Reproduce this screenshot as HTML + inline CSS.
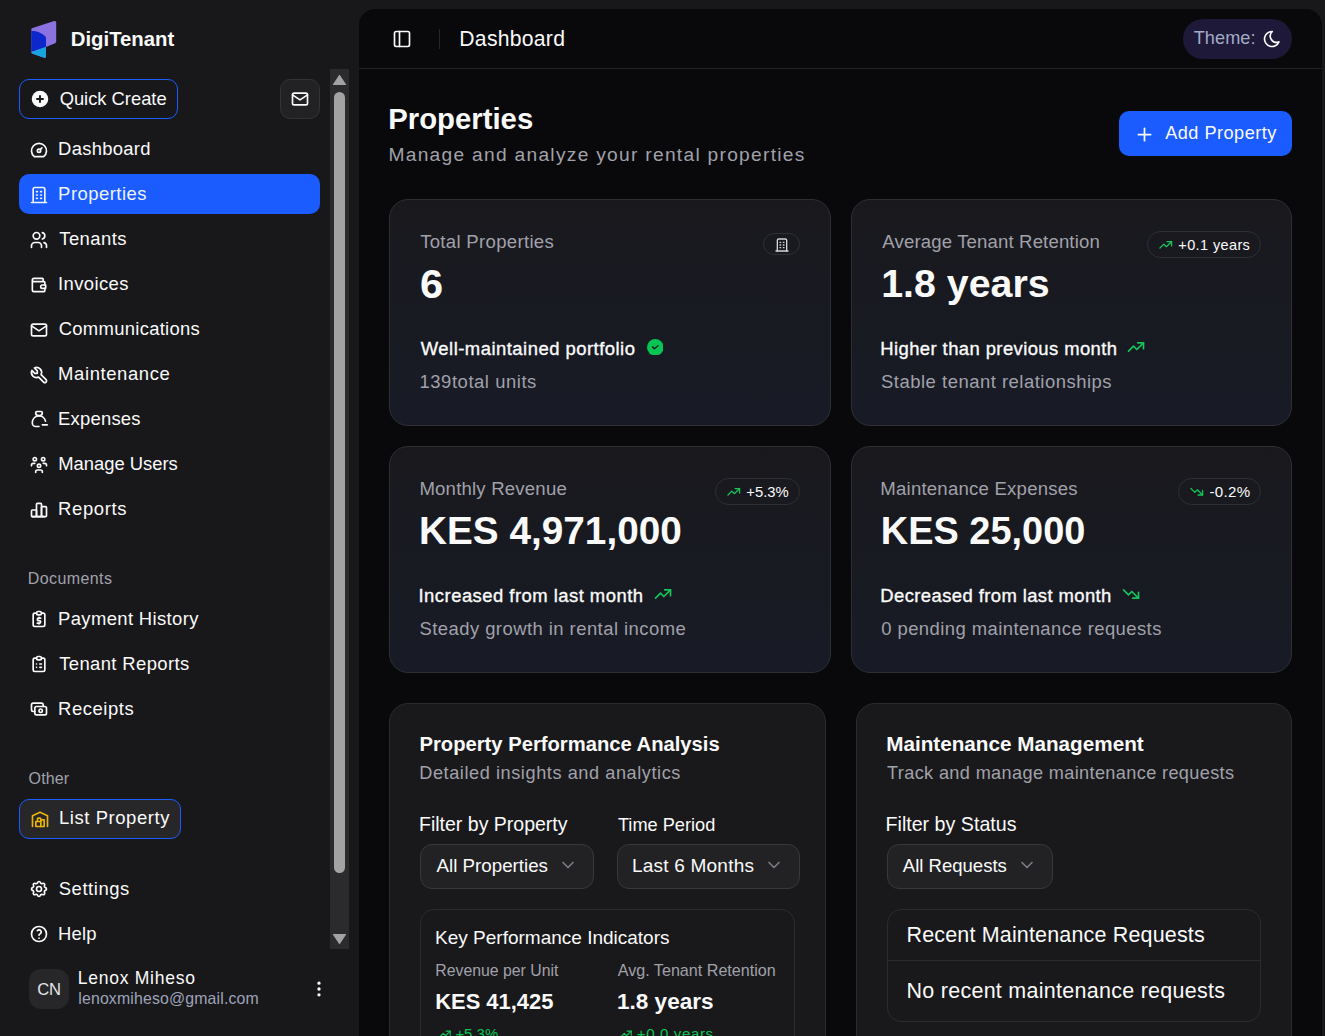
<!DOCTYPE html><html><head><meta charset="utf-8"><style>
*{box-sizing:border-box}
html,body{margin:0;padding:0}
body{width:1325px;height:1036px;overflow:hidden;background:#18181b;position:relative;font-family:'Liberation Sans',sans-serif;color:#fafafa}
.t{position:absolute;white-space:nowrap;line-height:1}
.ic{position:absolute;display:block}
.b{position:absolute}
</style></head><body>
<div class="b" style="left:359px;top:9px;width:963px;height:1100px;background:#09090b;border-radius:16px"></div>
<div class="b" style="left:359px;top:68px;width:963px;height:1px;background:#232326"></div>
<svg class="ic" style="left:0;top:0;width:80px;height:70px" viewBox="0 0 80 70">
<path d="M31.3 29.6 Q31.3 28.3 32.6 27.9 L54.2 21.0 Q56.2 20.5 56.2 22.6 L56.2 41.6 Q56.2 42.8 55.1 43.2 L46 47.1 L46 56.4 Q46 58.3 44.2 57.7 L32.6 53.7 Q31.3 53.2 31.3 51.9 Z" fill="#8c71e1"/>
<path d="M31.3 30.7 C37 30.9 42.5 33.2 46 37.2 L46 47.1 L31.3 52.1 Z" fill="#0c28cc"/>
<path d="M31.3 52.1 L46 47.1 L46 56.4 Q46 58.3 44.2 57.7 L32.6 53.7 Q31.3 53.2 31.3 52.1 Z" fill="#17a5dd"/>
</svg>
<div class="b" style="left:19px;top:79px;width:159px;height:40px;border:1.5px solid #1a5cff;border-radius:10px"></div>
<svg class="ic" style="left:31px;top:90px;width:18px;height:18px" viewBox="0 0 24 24"><circle cx="12" cy="12" r="11" fill="#fafafa"/><path d="M12 8v8M8 12h8" stroke="#18181b" stroke-width="2.6" stroke-linecap="round"/></svg>
<div class="b" style="left:280px;top:79px;width:40px;height:40px;background:#222225;border:1px solid #333337;border-radius:10px"></div>
<svg class="ic" style="left:289.8px;top:88.7px;width:20px;height:20px;color:#fafafa" viewBox="0 0 24 24" fill="none" stroke="currentColor" stroke-width="2" stroke-linecap="round" stroke-linejoin="round"><path d="M3 7a2 2 0 0 1 2 -2h14a2 2 0 0 1 2 2v10a2 2 0 0 1 -2 2h-14a2 2 0 0 1 -2 -2v-10z"/><path d="M3 7l9 6l9 -6"/></svg>
<div class="b" style="left:19px;top:174px;width:301px;height:40px;background:#1a5cff;border-radius:10px"></div>
<svg class="ic" style="left:29.3px;top:139.5px;width:20px;height:20px;color:#fafafa" viewBox="0 0 24 24" fill="none" stroke="currentColor" stroke-width="2" stroke-linecap="round" stroke-linejoin="round"><path d="M12 13m-2 0a2 2 0 1 0 4 0a2 2 0 1 0 -4 0"/><path d="M13.45 11.55l2.05 -2.05"/><path d="M6.4 20a9 9 0 1 1 11.2 0z"/></svg>
<svg class="ic" style="left:29.3px;top:184.5px;width:20px;height:20px;color:#eef3ff" viewBox="0 0 24 24" fill="none" stroke="currentColor" stroke-width="2" stroke-linecap="round" stroke-linejoin="round"><path d="M3 21l18 0"/><path d="M9 8l1 0"/><path d="M9 12l1 0"/><path d="M9 16l1 0"/><path d="M14 8l1 0"/><path d="M14 12l1 0"/><path d="M14 16l1 0"/><path d="M5 21v-16a2 2 0 0 1 2 -2h10a2 2 0 0 1 2 2v16"/></svg>
<svg class="ic" style="left:29.3px;top:229.5px;width:20px;height:20px;color:#fafafa" viewBox="0 0 24 24" fill="none" stroke="currentColor" stroke-width="2" stroke-linecap="round" stroke-linejoin="round"><path d="M9 7m-4 0a4 4 0 1 0 8 0a4 4 0 1 0 -8 0"/><path d="M3 21v-2a4 4 0 0 1 4 -4h4a4 4 0 0 1 4 4v2"/><path d="M16 3.13a4 4 0 0 1 0 7.75"/><path d="M21 21v-2a4 4 0 0 0 -3 -3.85"/></svg>
<svg class="ic" style="left:29.3px;top:274.5px;width:20px;height:20px;color:#fafafa" viewBox="0 0 24 24" fill="none" stroke="currentColor" stroke-width="2" stroke-linecap="round" stroke-linejoin="round"><path d="M17 8v-3a1 1 0 0 0 -1 -1h-10a2 2 0 0 0 0 4h12a1 1 0 0 1 1 1v3m0 4v3a1 1 0 0 1 -1 1h-12a2 2 0 0 1 -2 -2v-12"/><path d="M20 12v4h-4a2 2 0 0 1 0 -4h4"/></svg>
<svg class="ic" style="left:29.3px;top:319.5px;width:20px;height:20px;color:#fafafa" viewBox="0 0 24 24" fill="none" stroke="currentColor" stroke-width="2" stroke-linecap="round" stroke-linejoin="round"><path d="M3 7a2 2 0 0 1 2 -2h14a2 2 0 0 1 2 2v10a2 2 0 0 1 -2 2h-14a2 2 0 0 1 -2 -2v-10z"/><path d="M3 7l9 6l9 -6"/></svg>
<svg class="ic" style="left:29.3px;top:364.5px;width:20px;height:20px;color:#fafafa" viewBox="0 0 24 24" fill="none" stroke="currentColor" stroke-width="2" stroke-linecap="round" stroke-linejoin="round"><path d="M7 10h3v-3l-3.5 -3.5a6 6 0 0 1 8 8l6 6a2 2 0 0 1 -3 3l-6 -6a6 6 0 0 1 -8 -8l3.5 3.5"/></svg>
<svg class="ic" style="left:29.3px;top:408.5px;width:20px;height:20px;color:#fafafa" viewBox="0 0 24 24" fill="none" stroke="currentColor" stroke-width="2" stroke-linecap="round" stroke-linejoin="round"><path d="M9.5 3h5a1.5 1.5 0 0 1 1.5 1.5a3.5 3.5 0 0 1 -3.5 3.5h-1a3.5 3.5 0 0 1 -3.5 -3.5a1.5 1.5 0 0 1 1.5 -1.5z"/><path d="M12 21h-4a4 4 0 0 1 -4 -4v-1a8 8 0 0 1 15.8 -1.5"/><path d="M16 19h6"/></svg>
<svg class="ic" style="left:29.3px;top:454.5px;width:20px;height:20px;color:#fafafa" viewBox="0 0 24 24" fill="none" stroke="currentColor" stroke-width="2" stroke-linecap="round" stroke-linejoin="round"><path d="M10 13a2 2 0 1 0 4 0a2 2 0 0 0 -4 0"/><path d="M8 21v-1a2 2 0 0 1 2 -2h4a2 2 0 0 1 2 2v1"/><path d="M15 5a2 2 0 1 0 4 0a2 2 0 0 0 -4 0"/><path d="M17 10h2a2 2 0 0 1 2 2v1"/><path d="M5 5a2 2 0 1 0 4 0a2 2 0 0 0 -4 0"/><path d="M3 13v-1a2 2 0 0 1 2 -2h2"/></svg>
<svg class="ic" style="left:29.3px;top:499.5px;width:20px;height:20px;color:#fafafa" viewBox="0 0 24 24" fill="none" stroke="currentColor" stroke-width="2" stroke-linecap="round" stroke-linejoin="round"><path d="M3 13a1 1 0 0 1 1 -1h4a1 1 0 0 1 1 1v6a1 1 0 0 1 -1 1h-4a1 1 0 0 1 -1 -1z"/><path d="M15 9a1 1 0 0 1 1 -1h4a1 1 0 0 1 1 1v10a1 1 0 0 1 -1 1h-4a1 1 0 0 1 -1 -1z"/><path d="M9 5a1 1 0 0 1 1 -1h4a1 1 0 0 1 1 1v14a1 1 0 0 1 -1 1h-4a1 1 0 0 1 -1 -1z"/><path d="M4 20h14"/></svg>
<svg class="ic" style="left:29.3px;top:609px;width:20px;height:20px;color:#fafafa" viewBox="0 0 24 24" fill="none" stroke="currentColor" stroke-width="2" stroke-linecap="round" stroke-linejoin="round"><path d="M9 5h-2a2 2 0 0 0 -2 2v12a2 2 0 0 0 2 2h10a2 2 0 0 0 2 -2v-12a2 2 0 0 0 -2 -2h-2"/><path d="M9 3m0 2a2 2 0 0 1 2 -2h2a2 2 0 0 1 2 2v0a2 2 0 0 1 -2 2h-2a2 2 0 0 1 -2 -2z"/><path d="M14 11h-2.5a1.5 1.5 0 0 0 0 3h1a1.5 1.5 0 0 1 0 3h-2.5"/><path d="M12 17v1m0 -8v1"/></svg>
<svg class="ic" style="left:29.3px;top:654px;width:20px;height:20px;color:#fafafa" viewBox="0 0 24 24" fill="none" stroke="currentColor" stroke-width="2" stroke-linecap="round" stroke-linejoin="round"><path d="M9 5h-2a2 2 0 0 0 -2 2v12a2 2 0 0 0 2 2h10a2 2 0 0 0 2 -2v-12a2 2 0 0 0 -2 -2h-2"/><path d="M9 3m0 2a2 2 0 0 1 2 -2h2a2 2 0 0 1 2 2v0a2 2 0 0 1 -2 2h-2a2 2 0 0 1 -2 -2z"/><path d="M9 12l.01 0"/><path d="M13 12l2 0"/><path d="M9 16l.01 0"/><path d="M13 16l2 0"/></svg>
<svg class="ic" style="left:29.3px;top:699px;width:20px;height:20px;color:#fafafa" viewBox="0 0 24 24" fill="none" stroke="currentColor" stroke-width="2" stroke-linecap="round" stroke-linejoin="round"><path d="M7 9m0 2a2 2 0 0 1 2 -2h10a2 2 0 0 1 2 2v6a2 2 0 0 1 -2 2h-10a2 2 0 0 1 -2 -2z"/><path d="M14 14m-2 0a2 2 0 1 0 4 0a2 2 0 1 0 -4 0"/><path d="M17 9v-2a2 2 0 0 0 -2 -2h-10a2 2 0 0 0 -2 2v6a2 2 0 0 0 2 2h2"/></svg>
<div class="b" style="left:19px;top:799px;width:162px;height:40px;background:#27272a;border:1.5px solid #1a5cff;border-radius:10px"></div>
<svg class="ic" style="left:30px;top:809.2px;width:20px;height:20px;color:#eab308" viewBox="0 0 24 24" fill="none" stroke="currentColor" stroke-width="2" stroke-linecap="round" stroke-linejoin="round"><path d="M3 21v-13l9 -4l9 4v13"/><path d="M13 13h4v8h-10v-6h6"/><path d="M13 21v-9a1 1 0 0 0 -1 -1h-2a1 1 0 0 0 -1 1v3"/></svg>
<svg class="ic" style="left:29.3px;top:879px;width:20px;height:20px;color:#fafafa" viewBox="0 0 24 24" fill="none" stroke="currentColor" stroke-width="2" stroke-linecap="round" stroke-linejoin="round"><path d="M10.325 4.317c.426 -1.756 2.924 -1.756 3.35 0a1.724 1.724 0 0 0 2.573 1.066c1.543 -.94 3.31 .826 2.37 2.37a1.724 1.724 0 0 0 1.065 2.572c1.756 .426 1.756 2.924 0 3.35a1.724 1.724 0 0 0 -1.066 2.573c.94 1.543 -.826 3.31 -2.37 2.37a1.724 1.724 0 0 0 -2.572 1.065c-.426 1.756 -2.924 1.756 -3.35 0a1.724 1.724 0 0 0 -2.573 -1.066c-1.543 .94 -3.31 -.826 -2.37 -2.37a1.724 1.724 0 0 0 -1.065 -2.572c-1.756 -.426 -1.756 -2.924 0 -3.35a1.724 1.724 0 0 0 1.066 -2.573c-.94 -1.543 .826 -3.31 2.37 -2.37c1 .608 2.296 .07 2.572 -1.065z"/><path d="M9 12a3 3 0 1 0 6 0a3 3 0 0 0 -6 0"/></svg>
<svg class="ic" style="left:29.3px;top:924px;width:20px;height:20px;color:#fafafa" viewBox="0 0 24 24" fill="none" stroke="currentColor" stroke-width="2" stroke-linecap="round" stroke-linejoin="round"><path d="M12 12m-9 0a9 9 0 1 0 18 0a9 9 0 1 0 -18 0"/><path d="M12 17l0 .01"/><path d="M12 13.5a1.5 1.5 0 0 1 1 -1.5a2.6 2.6 0 1 0 -3 -4"/></svg>
<div class="b" style="left:29px;top:969px;width:40px;height:40px;background:#27272a;border-radius:12px"></div>
<svg class="ic" style="left:309px;top:979px;width:20px;height:20px;color:#fafafa" viewBox="0 0 24 24" fill="none" stroke="currentColor" stroke-width="2" stroke-linecap="round" stroke-linejoin="round"><path d="M12 12m-1 0a1 1 0 1 0 2 0a1 1 0 1 0 -2 0"/><path d="M12 19m-1 0a1 1 0 1 0 2 0a1 1 0 1 0 -2 0"/><path d="M12 5m-1 0a1 1 0 1 0 2 0a1 1 0 1 0 -2 0"/></svg>
<div class="b" style="left:330px;top:69px;width:19px;height:880px;background:#2b2b2d"></div>
<div class="b" style="left:334px;top:92px;width:11px;height:781px;background:#a3a3a3;border-radius:6px"></div>
<svg class="ic" style="left:330px;top:69px;width:19px;height:20px" viewBox="0 0 19 20"><path d="M9.5 6.5 L15.5 15.5 L3.5 15.5 Z" fill="#a3a3a3" stroke="#a3a3a3" stroke-width="1.2" stroke-linejoin="round"/></svg>
<svg class="ic" style="left:330px;top:929px;width:19px;height:20px" viewBox="0 0 19 20"><path d="M3.5 5.5 L15.5 5.5 L9.5 14.5 Z" fill="#a3a3a3" stroke="#a3a3a3" stroke-width="1.2" stroke-linejoin="round"/></svg>
<svg class="ic" style="left:391.9px;top:28.7px;width:20px;height:20px;color:#fafafa" viewBox="0 0 24 24" fill="none" stroke="currentColor" stroke-width="2" stroke-linecap="round" stroke-linejoin="round"><path d="M3 5a2 2 0 0 1 2 -2h14a2 2 0 0 1 2 2v14a2 2 0 0 1 -2 2h-14a2 2 0 0 1 -2 -2z"/><path d="M9 3v18"/></svg>
<div class="b" style="left:439px;top:29px;width:1px;height:20px;background:#27272a"></div>
<div class="b" style="left:1183px;top:19px;width:109px;height:40px;background:#1e1839;border-radius:20px"></div>
<svg class="ic" style="left:1262px;top:29px;width:20px;height:20px;color:#fafafa" viewBox="0 0 24 24" fill="none" stroke="currentColor" stroke-width="2" stroke-linecap="round" stroke-linejoin="round"><path d="M12 3c.132 0 .263 0 .393 0a7.5 7.5 0 0 0 7.92 12.446a9 9 0 1 1 -8.313 -12.454z"/></svg>
<div class="b" style="left:1119px;top:111px;width:173px;height:45px;background:#1a5cff;border-radius:10px"></div>
<svg class="ic" style="left:1133.5px;top:123.5px;width:21px;height:21px;color:#fafafa" viewBox="0 0 24 24" fill="none" stroke="currentColor" stroke-width="2" stroke-linecap="round" stroke-linejoin="round"><path d="M12 5l0 14"/><path d="M5 12l14 0"/></svg>
<div class="b" style="left:389px;top:199px;width:442px;height:227px;border:1px solid #2e2f33;border-radius:19px;background:linear-gradient(to top,#181b26,#19191d)"></div>
<div class="b" style="left:851px;top:199px;width:441px;height:227px;border:1px solid #2e2f33;border-radius:19px;background:linear-gradient(to top,#181b26,#19191d)"></div>
<div class="b" style="left:389px;top:446px;width:442px;height:227px;border:1px solid #2e2f33;border-radius:19px;background:linear-gradient(to top,#181b26,#19191d)"></div>
<div class="b" style="left:851px;top:446px;width:441px;height:227px;border:1px solid #2e2f33;border-radius:19px;background:linear-gradient(to top,#181b26,#19191d)"></div>
<div class="b" style="left:763px;top:233px;width:37px;height:22px;border:1px solid #2f3034;border-radius:11.0px"></div>
<svg class="ic" style="left:773.7px;top:236.7px;width:16px;height:16px;color:#d4d4d8" viewBox="0 0 24 24" fill="none" stroke="currentColor" stroke-width="2" stroke-linecap="round" stroke-linejoin="round"><path d="M3 21l18 0"/><path d="M9 8l1 0"/><path d="M9 12l1 0"/><path d="M9 16l1 0"/><path d="M14 8l1 0"/><path d="M14 12l1 0"/><path d="M14 16l1 0"/><path d="M5 21v-16a2 2 0 0 1 2 -2h10a2 2 0 0 1 2 2v16"/></svg>
<div class="b" style="left:1147px;top:231px;width:114px;height:27px;border:1px solid #2f3034;border-radius:13.5px"></div>
<svg class="ic" style="left:1157.6px;top:237.1px;width:15.5px;height:15.5px;color:#16c45a" viewBox="0 0 24 24" fill="none" stroke="currentColor" stroke-width="2" stroke-linecap="round" stroke-linejoin="round"><path d="M3 17l6 -6l4 4l8 -8"/><path d="M14 7l7 0l0 7"/></svg>
<div class="b" style="left:715px;top:478px;width:85px;height:27px;border:1px solid #2f3034;border-radius:13.5px"></div>
<svg class="ic" style="left:725.7px;top:483.8px;width:15.5px;height:15.5px;color:#16c45a" viewBox="0 0 24 24" fill="none" stroke="currentColor" stroke-width="2" stroke-linecap="round" stroke-linejoin="round"><path d="M3 17l6 -6l4 4l8 -8"/><path d="M14 7l7 0l0 7"/></svg>
<div class="b" style="left:1178px;top:478px;width:83px;height:27px;border:1px solid #2f3034;border-radius:13.5px"></div>
<svg class="ic" style="left:1188.7px;top:483.8px;width:15.5px;height:15.5px;color:#16c45a" viewBox="0 0 24 24" fill="none" stroke="currentColor" stroke-width="2" stroke-linecap="round" stroke-linejoin="round"><path d="M3 7l6 6l4 -4l8 8"/><path d="M21 10l0 7l-7 0"/></svg>
<svg class="ic" style="left:646.6px;top:338.6px;width:16.6px;height:16.6px" viewBox="0 0 24 24"><circle cx="12" cy="12" r="12" fill="#06c553"/><path d="M8 11.4L10.75 14.2L16 9.7" fill="none" stroke="#10241a" stroke-width="2.1" stroke-linecap="round" stroke-linejoin="round"/></svg>
<svg class="ic" style="left:1126px;top:336.6px;width:20px;height:20px;color:#16c45a" viewBox="0 0 24 24" fill="none" stroke="currentColor" stroke-width="2" stroke-linecap="round" stroke-linejoin="round"><path d="M3 17l6 -6l4 4l8 -8"/><path d="M14 7l7 0l0 7"/></svg>
<svg class="ic" style="left:652.8px;top:583.6px;width:20px;height:20px;color:#16c45a" viewBox="0 0 24 24" fill="none" stroke="currentColor" stroke-width="2" stroke-linecap="round" stroke-linejoin="round"><path d="M3 17l6 -6l4 4l8 -8"/><path d="M14 7l7 0l0 7"/></svg>
<svg class="ic" style="left:1121px;top:584px;width:20px;height:20px;color:#16c45a" viewBox="0 0 24 24" fill="none" stroke="currentColor" stroke-width="2" stroke-linecap="round" stroke-linejoin="round"><path d="M3 7l6 6l4 -4l8 8"/><path d="M21 10l0 7l-7 0"/></svg>
<div class="b" style="left:389px;top:703px;width:437px;height:400px;border:1px solid #2b2b2f;border-radius:19px;background:#19191c"></div>
<div class="b" style="left:856px;top:703px;width:436px;height:400px;border:1px solid #2b2b2f;border-radius:19px;background:#19191c"></div>
<div class="b" style="left:420px;top:844px;width:174px;height:45px;border:1px solid #38383c;border-radius:12px;background:#222225"></div>
<div class="b" style="left:617px;top:844px;width:183px;height:45px;border:1px solid #38383c;border-radius:12px;background:#222225"></div>
<div class="b" style="left:887px;top:844px;width:166px;height:45px;border:1px solid #38383c;border-radius:12px;background:#222225"></div>
<svg class="ic" style="left:558.3px;top:855.3px;width:20px;height:20px;color:#7c7c85" viewBox="0 0 24 24" fill="none" stroke="currentColor" stroke-width="2" stroke-linecap="round" stroke-linejoin="round"><path d="M6 9l6 6l6 -6"/></svg>
<svg class="ic" style="left:763.5px;top:855.3px;width:20px;height:20px;color:#7c7c85" viewBox="0 0 24 24" fill="none" stroke="currentColor" stroke-width="2" stroke-linecap="round" stroke-linejoin="round"><path d="M6 9l6 6l6 -6"/></svg>
<svg class="ic" style="left:1017.2px;top:855.3px;width:20px;height:20px;color:#7c7c85" viewBox="0 0 24 24" fill="none" stroke="currentColor" stroke-width="2" stroke-linecap="round" stroke-linejoin="round"><path d="M6 9l6 6l6 -6"/></svg>
<div class="b" style="left:420px;top:909px;width:375px;height:200px;border:1px solid #2b2b2f;border-radius:14px"></div>
<svg class="ic" style="left:437.6px;top:1027px;width:14px;height:14px;color:#16c45a" viewBox="0 0 24 24" fill="none" stroke="currentColor" stroke-width="2" stroke-linecap="round" stroke-linejoin="round"><path d="M3 17l6 -6l4 4l8 -8"/><path d="M14 7l7 0l0 7"/></svg>
<svg class="ic" style="left:618.8px;top:1027px;width:14px;height:14px;color:#16c45a" viewBox="0 0 24 24" fill="none" stroke="currentColor" stroke-width="2" stroke-linecap="round" stroke-linejoin="round"><path d="M3 17l6 -6l4 4l8 -8"/><path d="M14 7l7 0l0 7"/></svg>
<div class="b" style="left:887px;top:909px;width:374px;height:113px;border:1px solid #2b2b2f;border-radius:14px"></div>
<div class="b" style="left:888px;top:960px;width:372px;height:1px;background:#2b2b2f"></div>
<div class="t" style="left:70.78px;top:29.00px;font-size:20.34px;letter-spacing:0.000px;color:#fafafa;font-weight:700;">DigiTenant</div>
<div class="t" style="left:59.67px;top:90.00px;font-size:18.34px;letter-spacing:0.000px;color:#fafafa;">Quick Create</div>
<div class="t" style="left:58.12px;top:140.00px;font-size:18.44px;letter-spacing:0.261px;color:#fafafa;">Dashboard</div>
<div class="t" style="left:58.12px;top:185.00px;font-size:18.44px;letter-spacing:0.486px;color:#eef3ff;">Properties</div>
<div class="t" style="left:59.23px;top:230.00px;font-size:18.44px;letter-spacing:0.455px;color:#fafafa;">Tenants</div>
<div class="t" style="left:57.94px;top:275.00px;font-size:18.44px;letter-spacing:0.409px;color:#fafafa;">Invoices</div>
<div class="t" style="left:58.68px;top:320.00px;font-size:18.44px;letter-spacing:0.295px;color:#fafafa;">Communications</div>
<div class="t" style="left:58.12px;top:365.00px;font-size:18.44px;letter-spacing:0.604px;color:#fafafa;">Maintenance</div>
<div class="t" style="left:58.12px;top:410.00px;font-size:18.44px;letter-spacing:0.206px;color:#fafafa;">Expenses</div>
<div class="t" style="left:58.13px;top:455.00px;font-size:18.41px;letter-spacing:-0.000px;color:#fafafa;">Manage Users</div>
<div class="t" style="left:58.12px;top:500.00px;font-size:18.44px;letter-spacing:0.643px;color:#fafafa;">Reports</div>
<div class="t" style="left:27.72px;top:570.00px;font-size:16.02px;letter-spacing:0.403px;color:#a1a1aa;">Documents</div>
<div class="t" style="left:58.02px;top:610.00px;font-size:18.44px;letter-spacing:0.371px;color:#fafafa;">Payment History</div>
<div class="t" style="left:59.13px;top:655.00px;font-size:18.44px;letter-spacing:0.389px;color:#fafafa;">Tenant Reports</div>
<div class="t" style="left:58.02px;top:700.00px;font-size:18.44px;letter-spacing:0.568px;color:#fafafa;">Receipts</div>
<div class="t" style="left:28.56px;top:770.00px;font-size:16.02px;letter-spacing:0.144px;color:#a1a1aa;">Other</div>
<div class="t" style="left:58.92px;top:809.00px;font-size:18.44px;letter-spacing:0.588px;color:#fafafa;">List Property</div>
<div class="t" style="left:58.76px;top:880.00px;font-size:18.44px;letter-spacing:0.565px;color:#fafafa;">Settings</div>
<div class="t" style="left:58.02px;top:925.00px;font-size:18.44px;letter-spacing:0.171px;color:#fafafa;">Help</div>
<div class="t" style="left:37.27px;top:982.00px;font-size:16.60px;letter-spacing:-0.148px;color:#e4e4e7;">CN</div>
<div class="t" style="left:77.80px;top:970.00px;font-size:17.53px;letter-spacing:0.733px;color:#fafafa;">Lenox Miheso</div>
<div class="t" style="left:78.25px;top:991.00px;font-size:15.87px;letter-spacing:0.155px;color:#9ea3b8;">lenoxmiheso@gmail.com</div>
<div class="t" style="left:459.31px;top:28.00px;font-size:21.16px;letter-spacing:0.269px;color:#fafafa;">Dashboard</div>
<div class="t" style="left:1193.64px;top:29.00px;font-size:18.14px;letter-spacing:0.092px;color:#a3abc6;">Theme:</div>
<div class="t" style="left:388.24px;top:104.00px;font-size:29.32px;letter-spacing:0.000px;color:#fafafa;font-weight:700;">Properties</div>
<div class="t" style="left:388.46px;top:145.00px;font-size:19.20px;letter-spacing:1.278px;color:#a1a1aa;">Manage and analyze your rental properties</div>
<div class="t" style="left:1165.20px;top:124.00px;font-size:18.14px;letter-spacing:0.485px;color:#fafafa;">Add Property</div>
<div class="t" style="left:420.13px;top:233.00px;font-size:18.59px;letter-spacing:0.303px;color:#a1a1aa;">Total Properties</div>
<div class="t" style="left:419.95px;top:263.00px;font-size:41.57px;letter-spacing:0.831px;color:#fafafa;font-weight:700;">6</div>
<div class="t" style="left:420.80px;top:340.00px;font-size:18.44px;letter-spacing:0.481px;color:#fafafa;-webkit-text-stroke:0.35px currentColor;">Well-maintained portfolio</div>
<div class="t" style="left:419.51px;top:373.00px;font-size:18.44px;letter-spacing:0.549px;color:#a1a1aa;">139total units</div>
<div class="t" style="left:882.30px;top:233.00px;font-size:18.59px;letter-spacing:0.143px;color:#a1a1aa;">Average Tenant Retention</div>
<div class="t" style="left:881.24px;top:264.00px;font-size:39.35px;letter-spacing:0.000px;color:#fafafa;font-weight:700;">1.8 years</div>
<div class="t" style="left:1178.32px;top:238.00px;font-size:14.51px;letter-spacing:0.383px;color:#fafafa;">+0.1 years</div>
<div class="t" style="left:880.32px;top:340.00px;font-size:18.44px;letter-spacing:0.410px;color:#fafafa;-webkit-text-stroke:0.35px currentColor;">Higher than previous month</div>
<div class="t" style="left:881.06px;top:373.00px;font-size:18.44px;letter-spacing:0.509px;color:#a1a1aa;">Stable tenant relationships</div>
<div class="t" style="left:419.41px;top:480.00px;font-size:18.59px;letter-spacing:0.197px;color:#a1a1aa;">Monthly Revenue</div>
<div class="t" style="left:418.97px;top:512.00px;font-size:38.76px;letter-spacing:0.000px;color:#fafafa;font-weight:700;">KES 4,971,000</div>
<div class="t" style="left:746.31px;top:485.00px;font-size:14.82px;letter-spacing:0.000px;color:#fafafa;">+5.3%</div>
<div class="t" style="left:418.54px;top:587.00px;font-size:18.44px;letter-spacing:0.471px;color:#fafafa;-webkit-text-stroke:0.35px currentColor;">Increased from last month</div>
<div class="t" style="left:419.46px;top:620.00px;font-size:18.44px;letter-spacing:0.452px;color:#a1a1aa;">Steady growth in rental income</div>
<div class="t" style="left:880.31px;top:480.00px;font-size:18.59px;letter-spacing:0.219px;color:#a1a1aa;">Maintenance Expenses</div>
<div class="t" style="left:880.82px;top:513.00px;font-size:37.93px;letter-spacing:-0.000px;color:#fafafa;font-weight:700;">KES 25,000</div>
<div class="t" style="left:1209.40px;top:484.00px;font-size:15.12px;letter-spacing:0.339px;color:#fafafa;">-0.2%</div>
<div class="t" style="left:880.32px;top:587.00px;font-size:18.44px;letter-spacing:0.405px;color:#fafafa;-webkit-text-stroke:0.35px currentColor;">Decreased from last month</div>
<div class="t" style="left:881.25px;top:620.00px;font-size:18.44px;letter-spacing:0.435px;color:#a1a1aa;">0 pending maintenance requests</div>
<div class="t" style="left:419.49px;top:734.00px;font-size:20.22px;letter-spacing:0.000px;color:#fafafa;font-weight:700;">Property Performance Analysis</div>
<div class="t" style="left:419.25px;top:764.00px;font-size:18.14px;letter-spacing:0.576px;color:#a1a1aa;">Detailed insights and analytics</div>
<div class="t" style="left:419.04px;top:815.00px;font-size:19.51px;letter-spacing:0.000px;color:#fafafa;">Filter by Property</div>
<div class="t" style="left:617.94px;top:816.00px;font-size:18.19px;letter-spacing:0.000px;color:#fafafa;">Time Period</div>
<div class="t" style="left:436.60px;top:857.00px;font-size:18.73px;letter-spacing:-0.000px;color:#fafafa;">All Properties</div>
<div class="t" style="left:631.88px;top:856.00px;font-size:19.05px;letter-spacing:0.213px;color:#fafafa;">Last 6 Months</div>
<div class="t" style="left:435.08px;top:928.00px;font-size:19.00px;letter-spacing:-0.000px;color:#fafafa;">Key Performance Indicators</div>
<div class="t" style="left:435.33px;top:963.00px;font-size:15.82px;letter-spacing:0.000px;color:#a1a1aa;">Revenue per Unit</div>
<div class="t" style="left:617.70px;top:962.00px;font-size:16.14px;letter-spacing:0.000px;color:#a1a1aa;">Avg. Tenant Retention</div>
<div class="t" style="left:435.29px;top:991.00px;font-size:21.90px;letter-spacing:0.000px;color:#fafafa;font-weight:700;">KES 41,425</div>
<div class="t" style="left:616.95px;top:991.00px;font-size:22.58px;letter-spacing:0.000px;color:#fafafa;font-weight:700;">1.8 years</div>
<div class="t" style="left:455.40px;top:1027.00px;font-size:14.96px;letter-spacing:0.000px;color:#0cc553;">+5.3%</div>
<div class="t" style="left:636.80px;top:1026.00px;font-size:15.12px;letter-spacing:0.595px;color:#0cc553;">+0.0 years</div>
<div class="t" style="left:886.16px;top:734.00px;font-size:20.70px;letter-spacing:0.000px;color:#fafafa;font-weight:700;">Maintenance Management</div>
<div class="t" style="left:887.04px;top:764.00px;font-size:18.14px;letter-spacing:0.367px;color:#a1a1aa;">Track and manage maintenance requests</div>
<div class="t" style="left:885.53px;top:815.00px;font-size:19.65px;letter-spacing:0.001px;color:#fafafa;">Filter by Status</div>
<div class="t" style="left:902.80px;top:857.00px;font-size:18.54px;letter-spacing:0.000px;color:#fafafa;">All Requests</div>
<div class="t" style="left:906.48px;top:925.00px;font-size:21.47px;letter-spacing:0.178px;color:#fafafa;">Recent Maintenance Requests</div>
<div class="t" style="left:906.48px;top:981.00px;font-size:21.47px;letter-spacing:0.284px;color:#fafafa;">No recent maintenance requests</div>
</body></html>
